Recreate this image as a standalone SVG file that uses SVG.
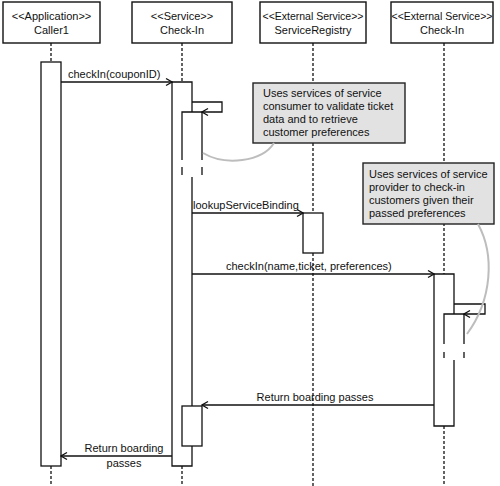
<svg xmlns="http://www.w3.org/2000/svg" width="500" height="486" viewBox="0 0 500 486">
<defs>
<style>
text{font-family:"Liberation Sans",Arial,sans-serif;font-size:11px;fill:#111}
.hd{text-anchor:middle}
.ext{font-size:10.5px}
.box{fill:#fff;stroke:#111;stroke-width:1.4}
.life{stroke:#111;stroke-width:1.3;stroke-dasharray:3,2;fill:none}
.act{fill:#fff;stroke:#111;stroke-width:1.3}
.ln{stroke:#111;stroke-width:1.3;fill:none}
.msg{stroke:#111;stroke-width:1.3;fill:none;marker-end:url(#ah)}
.note{fill:#e2e2e2;stroke:#222;stroke-width:1.4}
.link{stroke:#bdbdbd;stroke-width:2;fill:none}
</style>
<marker id="ah" viewBox="0 0 10 10" refX="9" refY="5" markerWidth="10" markerHeight="10" markerUnits="userSpaceOnUse" orient="auto">
<path d="M3,1.5 L9,5 L3,8.5" fill="none" stroke="#111" stroke-width="1.3"/>
</marker>
</defs>

<g id="lifelines">
<path class="life" d="M51,43V62M51,466V486"/>
<path class="life" d="M182,43V82M182,466V486"/>
<path class="life" d="M313,43V213M313,253V486"/>
<path class="life" d="M444,43V274M444,426V486"/>
</g>

<g id="caller1">
<rect class="box" x="3" y="2" width="97" height="41"/>
<text class="hd" x="51.5" y="20">&lt;&lt;Application&gt;&gt;</text>
<text class="hd" x="51.5" y="34">Caller1</text>
<rect class="act" x="41" y="62" width="20" height="404"/>
</g>

<g id="checkin">
<rect class="box" x="132" y="2" width="100" height="41"/>
<text class="hd" x="182" y="20">&lt;&lt;Service&gt;&gt;</text>
<text class="hd" x="182" y="34">Check-In</text>
<rect x="172" y="82" width="20" height="384" fill="#fff"/>
<path class="ln" d="M172,82H192V112M172,82V466H192V446M192,177V406"/>
<rect x="182" y="112" width="20" height="55" fill="#fff"/>
<path class="ln" d="M182,160V112H202V160M182,167V175M202,167V175"/>
<rect class="act" x="182" y="406" width="20" height="40"/>
</g>

<g id="serviceregistry">
<rect class="box" x="260" y="2" width="106" height="41"/>
<text class="hd ext" x="313" y="20">&lt;&lt;External Service&gt;&gt;</text>
<text class="hd" x="313" y="34">ServiceRegistry</text>
<rect class="act" x="303" y="213" width="20" height="40"/>
</g>

<g id="extcheckin">
<rect class="box" x="391" y="2" width="102" height="41"/>
<text class="hd ext" x="442" y="20">&lt;&lt;External Service&gt;&gt;</text>
<text class="hd" x="442" y="34">Check-In</text>
<rect x="434" y="274" width="20" height="152" fill="#fff"/>
<path class="ln" d="M434,274H454V314M434,274V426H454V360"/>
<rect x="444" y="314" width="20" height="44" fill="#fff"/>
<path class="ln" d="M444,344V314H464V344M444,352V358M464,352V358"/>
</g>

<g id="note1">
<rect class="note" x="253" y="83" width="152" height="60"/>
<text x="263" y="96.5">Uses services of service</text>
<text x="263" y="109.5">consumer to validate ticket</text>
<text x="263" y="122.5">data and to retrieve</text>
<text x="263" y="135.5">customer preferences</text>
</g>

<g id="note2">
<rect class="note" x="363" y="163" width="131" height="61"/>
<text x="369" y="177.5">Uses services of service</text>
<text x="369" y="190.7">provider to check-in</text>
<text x="369" y="203.9">customers given their</text>
<text x="369" y="217">passed preferences</text>
</g>

<g id="connectors">
<path class="msg" d="M61,82H172"/>
<text x="68" y="78">checkIn(couponID)</text>
<path class="msg" d="M192,102H222V112H202"/>
<path class="msg" d="M192,213H303"/>
<text x="193" y="209">lookupServiceBinding</text>
<path class="msg" d="M192,274H434"/>
<text x="226" y="270">checkIn(name,ticket, preferences)</text>
<path class="msg" d="M454,304H485V314H464"/>
<path class="msg" d="M434,405H202"/>
<text x="315" y="401" class="hd">Return boarding passes</text>
<path class="msg" d="M172,456H61"/>
<text x="124" y="452" class="hd">Return boarding</text>
<text x="124" y="467" class="hd">passes</text>
<path class="link" d="M203,153C225,166 262,162 274,143"/>
<path class="link" d="M478,224C495,255 492,300 467,334"/>
</g>
</svg>
